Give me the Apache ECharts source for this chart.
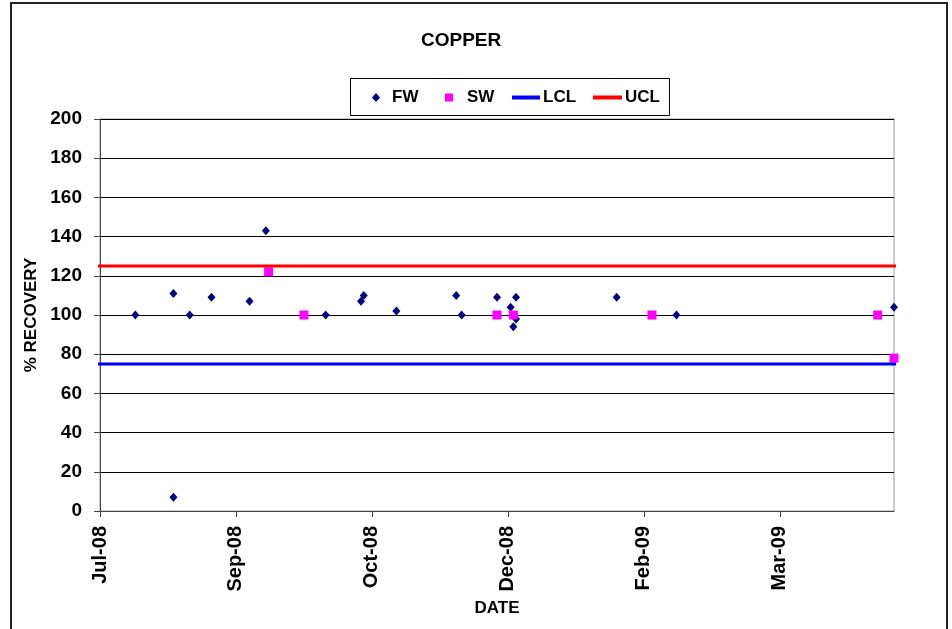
<!DOCTYPE html>
<html><head><meta charset="utf-8">
<script src="https://cdn.jsdelivr.net/npm/echarts@6/dist/echarts.min.js"></script>
<style>html,body{margin:0;padding:0;background:#fff}#c{width:952px;height:629px}</style>
</head><body><div id="c"></div>
<script>
// ---- data ----
const fwDates = ['2008-08-02','2008-08-16','2008-08-16','2008-08-22','2008-08-30','2008-09-13','2008-09-19',
  '2008-10-11','2008-10-24','2008-10-25','2008-11-06','2008-11-28','2008-11-30','2008-12-13','2008-12-18',
  '2008-12-19','2008-12-20','2008-12-20','2009-01-26','2009-02-17','2009-05-08'];
const fwValues = [100,111,7,100,109,107,143,100,107,110,102,110,100,109,104,94,109,98,109,100,104];
const swDates = ['2008-09-20','2008-10-03','2008-12-13','2008-12-19','2009-02-08','2009-05-02','2009-05-08'];
const swValues = [122,100,100,100,100,100,78];
const lclValue = 75;
const uclValue = 125;
const axisStartDate = '2008-07-20';
const axisEndDate = '2009-05-08';
const limitLineStart = '2008-07-18';
const limitLineEnd = '2009-05-10';
const xTickStepDays = 50;
const yMin = 0, yMax = 200, yStep = 20;
const monthNames = ['Jan','Feb','Mar','Apr','May','Jun','Jul','Aug','Sep','Oct','Nov','Dec'];

// ---- helpers ----
function utc(s){ const p = s.split('-').map(Number); return Date.UTC(p[0], p[1]-1, p[2]); }
const t0 = utc(axisStartDate);
function dayOf(s){ return Math.round((utc(s) - t0) / 86400000); }
function fmt(v){ const d = new Date(t0 + v*86400000); return monthNames[d.getUTCMonth()] + '-' + String(d.getUTCFullYear()).slice(2); }
const xMax = dayOf(axisEndDate);
const xTicks = []; for (let v = 0; v <= xMax; v += xTickStepDays) xTicks.push(v);

const FONT = "'Liberation Sans', Arial, sans-serif";
const chart = echarts.init(document.getElementById('c'), null, {renderer:'canvas'});

function legendItem(name, left, w, h, icon, padLeft){
  return {
    data: [{name: name, icon: icon}],
    left: left, top: 89, orient: 'horizontal', padding: 0,
    itemWidth: w, itemHeight: h, selectedMode: false,
    textStyle: {fontFamily: FONT, fontWeight: 'bold', fontSize: 17, color: '#000', padding: [0, 0, 0, padLeft]}
  };
}

chart.setOption({
  animation: false,
  backgroundColor: '#fff',
  title: {
    text: 'COPPER', left: 421, top: 31, padding: 0,
    textStyle: {fontFamily: FONT, fontWeight: 'bold', fontSize: 19, color: '#000'}
  },
  graphic: [
    {type: 'rect', shape: {x: 11, y: 3, width: 936, height: 700}, style: {fill: null, stroke: '#222', lineWidth: 2}, silent: true, z: -1},
    {type: 'rect', shape: {x: 350.5, y: 78.5, width: 319, height: 37}, style: {fill: '#fff', stroke: '#000', lineWidth: 1}, silent: true, z: 1}
  ],
  legend: [
    legendItem('FW', 372, 8, 9, 'diamond', 7),
    legendItem('SW', 445, 8, 8, 'rect', 9),
    legendItem('LCL', 512, 28, 4, 'rect', -2),
    legendItem('UCL', 593, 29, 4, 'rect', -2)
  ],
  grid: {left: 100, top: 119, width: 794, height: 392, show: true, borderColor: '#999', borderWidth: 1, backgroundColor: 'transparent'},
  xAxis: {
    type: 'value', min: 0, max: xMax,
    name: 'DATE', nameLocation: 'middle', nameGap: 89,
    nameTextStyle: {fontFamily: FONT, fontWeight: 'bold', fontSize: 17, color: '#000'},
    axisLine: {lineStyle: {color: '#444', width: 1}},
    axisTick: {show: true, length: 6, customValues: xTicks, lineStyle: {color: '#444'}},
    axisLabel: {customValues: xTicks, rotate: 90, margin: 15, formatter: fmt,
      fontFamily: FONT, fontWeight: 'bold', fontSize: 20, color: '#000'},
    splitLine: {show: false}
  },
  yAxis: {
    type: 'value', min: yMin, max: yMax, interval: yStep,
    name: '% RECOVERY', nameLocation: 'middle', nameGap: 55,
    nameTextStyle: {fontFamily: FONT, fontWeight: 'bold', fontSize: 17, color: '#000'},
    axisLine: {show: true, lineStyle: {color: '#444', width: 1}},
    axisTick: {show: true, length: 6, lineStyle: {color: '#444'}},
    axisLabel: {margin: 18, fontFamily: FONT, fontWeight: 'bold', fontSize: 19, color: '#000'},
    splitLine: {show: true, lineStyle: {color: '#000', width: 1}}
  },
  series: [
    {name: 'FW', type: 'scatter', symbol: 'diamond', symbolSize: [8, 9],
     itemStyle: {color: '#000080', opacity: 1},
     data: fwDates.map((d, i) => [dayOf(d), fwValues[i]])},
    {name: 'SW', type: 'scatter', symbol: 'rect', symbolSize: 9,
     itemStyle: {color: '#FF00FF', opacity: 1},
     data: swDates.map((d, i) => [dayOf(d), swValues[i]])},
    {name: 'LCL', type: 'line', symbol: 'none', clip: false,
     lineStyle: {color: '#0000FF', width: 3}, itemStyle: {color: '#0000FF'},
     data: [[dayOf(limitLineStart), lclValue], [dayOf(limitLineEnd), lclValue]]},
    {name: 'UCL', type: 'line', symbol: 'none', clip: false,
     lineStyle: {color: '#FF0000', width: 3}, itemStyle: {color: '#FF0000'},
     data: [[dayOf(limitLineStart), uclValue], [dayOf(limitLineEnd), uclValue]]}
  ]
});
</script></body></html>
